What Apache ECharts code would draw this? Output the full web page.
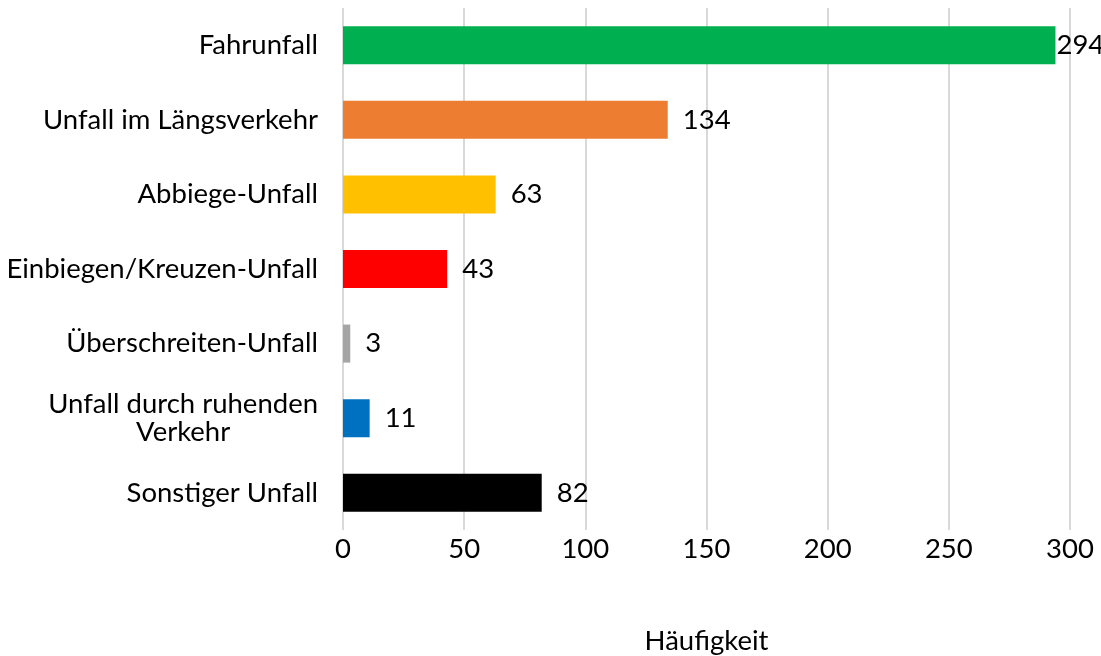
<!DOCTYPE html>
<html>
<head>
<meta charset="utf-8">
<script src="https://cdn.jsdelivr.net/npm/echarts@6/dist/echarts.min.js"></script>
<style>
  html, body { margin: 0; padding: 0; background: #fff; }
  #chart { width: 1101px; height: 656px; }
</style>
</head>
<body>
<div id="chart"></div>
<script>
// Kategorien von oben nach unten
const categories = [
  "Fahrunfall",
  "Unfall im Längsverkehr",
  "Abbiege-Unfall",
  "Einbiegen/Kreuzen-Unfall",
  "Überschreiten-Unfall",
  "Unfall durch ruhenden Verkehr",
  "Sonstiger Unfall"
];
const values = [294, 134, 63, 43, 3, 11, 82];
const barColors = ["#00B050", "#ED7D31", "#FFC000", "#FF0000", "#A5A5A5", "#0070C0", "#000000"];
const xTicks = [0, 50, 100, 150, 200, 250, 300];

const FONT = "Lato";
const FS = 27.5;

let myChart = echarts.init(document.getElementById("chart"));
let option = {
  animation: false,
  textStyle: { fontFamily: FONT },
  grid: {
    left: 343,
    right: 31,
    top: 8,
    bottom: 126,
    outerBoundsMode: "none"
  },
  xAxis: {
    type: "value",
    min: xTicks[0],
    max: xTicks[xTicks.length - 1],
    interval: 50,
    name: "Häufigkeit",
    nameLocation: "middle",
    nameGap: 97,
    nameTextStyle: { fontFamily: FONT, fontSize: FS, color: "#000" },
    axisLine: { show: false },
    axisTick: { show: false },
    axisLabel: { fontFamily: FONT, fontSize: FS, color: "#000", margin: 5 },
    splitLine: { lineStyle: { color: "#D9D9D9", width: 2 } }
  },
  yAxis: {
    type: "category",
    inverse: true,
    data: categories,
    axisLine: { show: false },
    axisTick: { show: false },
    axisLabel: {
      margin: 25,
      fontFamily: FONT,
      fontSize: FS,
      color: "#000",
      // lange Beschriftung zweizeilig, zentriert
      formatter: function (v) {
        if (v === "Unfall durch ruhenden Verkehr") {
          return "{c|Unfall durch ruhenden}\n{c|Verkehr}";
        }
        return v;
      },
      rich: {
        c: { align: "center", fontFamily: FONT, fontSize: FS, color: "#000", lineHeight: 28 }
      }
    }
  },
  series: [{
    type: "bar",
    barCategoryGap: "49%",
    data: values.map(function (v, i) {
      return {
        value: v,
        itemStyle: { color: barColors[i] },
        label: { distance: v > 250 ? 1 : 15 }
      };
    }),
    label: {
      show: true,
      position: "right",
      fontFamily: FONT,
      fontSize: FS,
      color: "#000"
    }
  }]
};
myChart.setOption(option);
</script>
</body>
</html>
